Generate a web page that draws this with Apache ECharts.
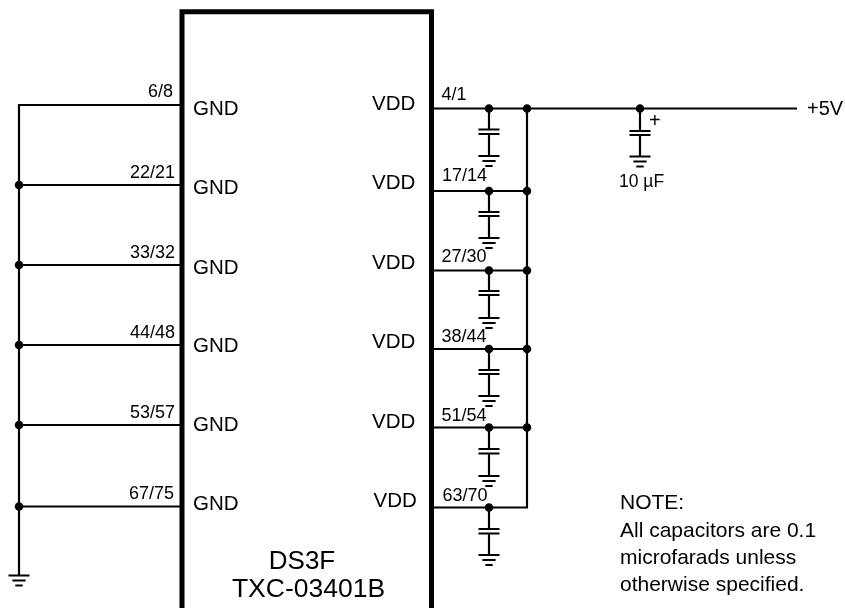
<!DOCTYPE html>
<html><head><meta charset="utf-8">
<style>html,body{margin:0;padding:0;background:#fff}#c{width:845px;height:608px}</style>
<script src="https://cdn.jsdelivr.net/npm/echarts@6/dist/echarts.min.js"></script>
</head><body><div id="c"></div>
<script>
// schematic values (page pixels; y grows downward)
const gndPins = ['6/8','22/21','33/32','44/48','53/57','67/75'];
const gndWireY = [105,185,265,345,425,506.5];
const gndLabelX = [173,175,175,175,175,174];
const gndLabelY = [92,173,253,333,413,494];
const gndTextY = [109,188,268,346,425,504.5];
const vddPins = ['4/1','17/14','27/30','38/44','51/54','63/70'];
const vddWireY = [108.5,191,270.5,349,427.5,507.5];
const vddLabelX = [441.5,442,441.5,441.5,441.5,442.5];
const vddLabelY = [95,176,257.5,337.5,416,496];
const vddTextY = [104,183,263,342,422,501.5];
const vddTextX = [372,372,372,372,372,373.5];
const capPlate1Y = [129.5,212,291,370,449,529];
const capPlate2Y = [134,216,295,374,453.5,533.5];
const capGroundY = [156,238,318,396,476,555];
const busLeftX = 19, busRightX = 527, capX = 489, bigCapX = 640;
const chipBox = [[182,608],[182,11.8],[431.5,11.8],[431.5,608]];
const mainRailEndX = 797;
const texts = [
  ['DS3F', 302, 562, 26, 'center'],
  ['TXC-03401B', 308.5, 590, 26.5, 'center'],
  ['+5V', 807, 109.5, 20, 'left'],
  ['+', 649, 121, 20, 'left'],
  ['10 \u00b5F', 619, 182.5, 17.5, 'left'],
  ['NOTE:', 620, 503, 21, 'left'],
  ['All capacitors are 0.1', 620, 531, 21, 'left'],
  ['microfarads unless', 620, 558, 21, 'left'],
  ['otherwise specified.', 620, 585, 21, 'left']
];

const GAP = ['-','-'];
const seg = (a,b)=>[a,b,GAP];
function ground(x,y,w){
  return [
    ...seg([x-w,y],[x+w,y]),
    ...seg([x-w*0.63,y+5],[x+w*0.63,y+5]),
    ...seg([x-w*0.35,y+10],[x+w*0.35,y+10])
  ];
}
function capacitor(x,top,p1,p2,g){
  return [
    ...seg([x,top],[x,p1]),
    ...seg([x-10.5,p1],[x+10.5,p1]),
    ...seg([x-10.5,p2],[x+10.5,p2]),
    ...seg([x,p2],[x,g]),
    ...ground(x,g,10.5)
  ];
}
let wires = [];
gndWireY.forEach(y=>{ wires.push(...seg([busLeftX,y],[182,y])); });
wires.push(...seg([busLeftX,gndWireY[0]-1],[busLeftX,575.5]));
wires.push(...ground(busLeftX,575.5,10.5));
vddWireY.forEach((y,i)=>{
  wires.push(...seg([431.5,y],[i===0?mainRailEndX:busRightX+(i===5?1:0),y]));
  wires.push(...capacitor(capX,y,capPlate1Y[i],capPlate2Y[i],capGroundY[i]));
});
wires.push(...seg([busRightX,vddWireY[0]],[busRightX,vddWireY[5]]));
wires.push(...capacitor(bigCapX,vddWireY[0],131,135,156.5));

const dots = [
  ...gndWireY.slice(1).map(y=>[busLeftX,y]),
  ...vddWireY.map(y=>[capX,y]),
  ...vddWireY.slice(0,5).map(y=>[busRightX,y]),
  [bigCapX,vddWireY[0]]
];
const FONT = '"Liberation Sans", Arial, sans-serif';
const textRows = [
  ...gndPins.map((t,i)=>[t,gndLabelX[i],gndLabelY[i],18,'right']),
  ...gndPins.map((t,i)=>['GND',193,gndTextY[i],20.5,'left']),
  ...vddPins.map((t,i)=>[t,vddLabelX[i],vddLabelY[i],18,'left']),
  ...vddPins.map((t,i)=>['VDD',vddTextX[i],vddTextY[i],20.5,'left']),
  ...texts
];
const line = (name,data,w)=>({name,type:'line',data,showSymbol:false,symbol:'none',silent:true,animation:false,connectNulls:false,
  lineStyle:{color:'#000',width:w,cap:'butt',join:'miter'}});
const chart = echarts.init(document.getElementById('c'),null,{renderer:'canvas'});
chart.setOption({
  animation:false,
  backgroundColor:'#fff',
  grid:{left:0,right:0,top:0,bottom:0},
  xAxis:{type:'value',min:0,max:845,show:false},
  yAxis:{type:'value',min:0,max:608,inverse:true,show:false},
  series:[
    line('wires',wires,2.2),
    line('chip',chipBox,5),
    {type:'scatter',name:'junctions',data:dots,symbol:'circle',symbolSize:8.5,silent:true,itemStyle:{color:'#000',opacity:1}},
    {type:'scatter',name:'text',silent:true,symbolSize:0,itemStyle:{opacity:1},
     data:textRows.map(r=>({value:[r[1],r[2]],
       label:{show:true,position:'inside',formatter:r[0],fontSize:r[3],align:r[4],verticalAlign:'middle',
              fontFamily:FONT,color:'#000',fontWeight:'normal',opacity:1}}))}
  ]
});
</script></body></html>
